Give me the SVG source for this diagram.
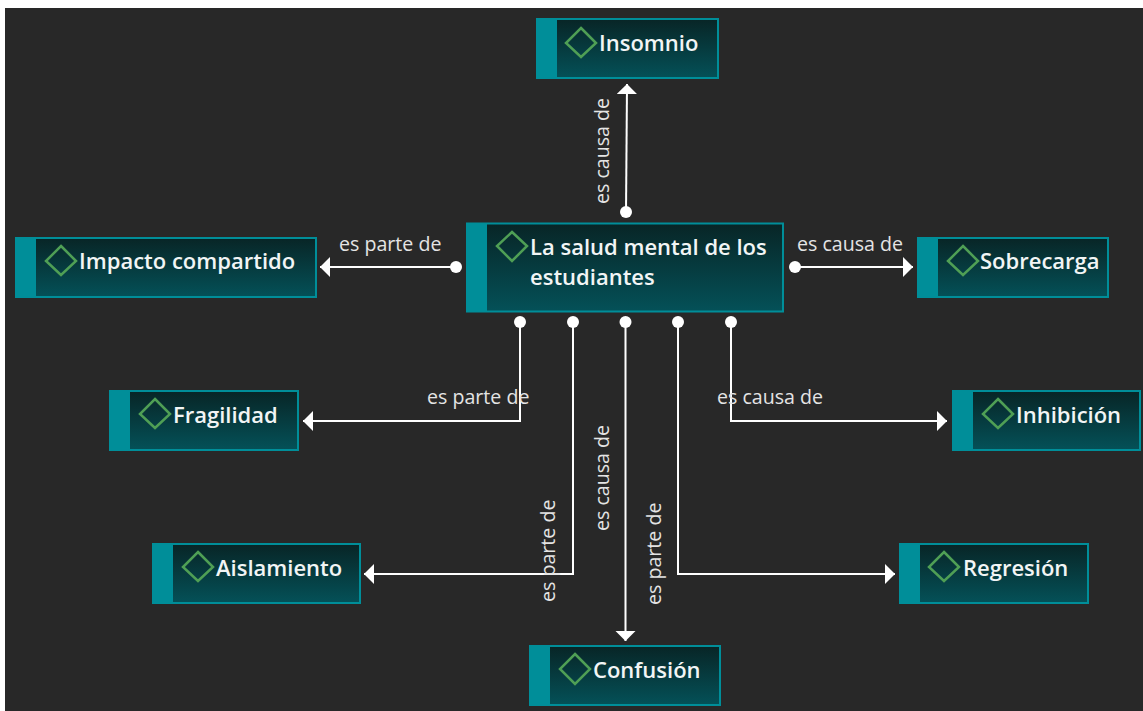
<svg xmlns="http://www.w3.org/2000/svg" width="1143" height="711" viewBox="0 0 1143 711">
<style>
.box{fill:url(#g);stroke:#008e99;stroke-width:2}
.bar{fill:#008e99}
.dia{fill:none;stroke:#4f9f55;stroke-width:2.5}
.t{font-family:"Open Sans","Noto Sans",sans-serif;font-size:22px;font-weight:600;fill:#f2f5f5}
.l{font-family:"Open Sans","Noto Sans",sans-serif;font-size:19.6px;fill:#e4e4e4}
.c{fill:none;stroke:#fff;stroke-width:2}
.d{fill:#fff}
</style>
<defs>
<linearGradient id="g" x1="0" y1="0" x2="0" y2="1"><stop offset="0" stop-color="#082526"/><stop offset="1" stop-color="#045158"/></linearGradient>
<marker id="a" markerUnits="userSpaceOnUse" markerWidth="14" markerHeight="22" refX="11" refY="10" orient="auto"><path d="M1 0L11 10L1 20Z" fill="#fff"/></marker>
</defs>
<rect width="1143" height="711" fill="#fff"/>
<rect x="5" y="8" width="1138" height="703" fill="#282828"/>
<g id="connectors">
<path class="c" d="M626 212L627 84" marker-end="url(#a)"/><circle class="d" cx="626" cy="212" r="6"/>
<path class="c" d="M456 267H320" marker-end="url(#a)"/><circle class="d" cx="456" cy="267" r="6"/>
<path class="c" d="M795 267H913" marker-end="url(#a)"/><circle class="d" cx="795" cy="267" r="6"/>
<path class="c" d="M520 322V421H303" marker-end="url(#a)"/><circle class="d" cx="520" cy="322" r="6"/>
<path class="c" d="M573 322V574H364" marker-end="url(#a)"/><circle class="d" cx="573" cy="322" r="6"/>
<path class="c" d="M625.500 322V641" marker-end="url(#a)"/><circle class="d" cx="625.500" cy="322" r="6"/>
<path class="c" d="M678 322V574H895" marker-end="url(#a)"/><circle class="d" cx="678" cy="322" r="6"/>
<path class="c" d="M731 322V421H947" marker-end="url(#a)"/><circle class="d" cx="731" cy="322" r="6"/>
<text class="l" transform="translate(609 204) rotate(-90)">es causa de</text>
<text class="l" x="339" y="251">es parte de</text>
<text class="l" x="797" y="251">es causa de</text>
<text class="l" x="427" y="404">es parte de</text>
<text class="l" x="717" y="404">es causa de</text>
<text class="l" transform="translate(555 602) rotate(-90)">es parte de</text>
<text class="l" transform="translate(609 531) rotate(-90)">es causa de</text>
<text class="l" transform="translate(661 605) rotate(-90)">es parte de</text>
</g>
<g id="n-insomnio"><rect class="box" x="537" y="19" width="181" height="59"/><rect class="bar" x="536" y="18" width="21" height="61"/><path class="dia" d="M581 28L596 43L581 57L566 43Z"/><text class="t" x="599" y="51">Insomnio</text></g>
<g id="n-main"><rect class="box" x="467" y="223.500" width="316" height="88"/><rect class="bar" x="466" y="223" width="21" height="89"/><path class="dia" d="M512 232L527 246L512 261L497 246Z"/><text class="t" x="530" y="255">La salud mental de los</text><text class="t" x="530" y="285">estudiantes</text></g>
<g id="n-impacto"><rect class="box" x="16" y="238" width="300" height="59"/><rect class="bar" x="15" y="237" width="21" height="61"/><path class="dia" d="M61 246L76 261L61 275L46 261Z"/><text class="t" x="79" y="269">Impacto compartido</text></g>
<g id="n-sobrecarga"><rect class="box" x="918" y="238" width="190" height="59"/><rect class="bar" x="917" y="237" width="21" height="61"/><path class="dia" d="M963 246L978 261L963 275L948 261Z"/><text class="t" x="980" y="269">Sobrecarga</text></g>
<g id="n-fragilidad"><rect class="box" x="110" y="391" width="188" height="59"/><rect class="bar" x="109" y="390" width="21" height="61"/><path class="dia" d="M155 399L170 414L155 428L140 414Z"/><text class="t" x="173" y="423">Fragilidad</text></g>
<g id="n-inhibicion"><rect class="box" x="953" y="391" width="187" height="59"/><rect class="bar" x="952" y="390" width="21" height="61"/><path class="dia" d="M998 399L1013 414L998 428L983 414Z"/><text class="t" x="1016" y="423">Inhibición</text></g>
<g id="n-aislamiento"><rect class="box" x="153" y="544" width="207" height="59"/><rect class="bar" x="152" y="543" width="21" height="61"/><path class="dia" d="M198 552L213 567L198 581L183 567Z"/><text class="t" x="216" y="576">Aislamiento</text></g>
<g id="n-regresion"><rect class="box" x="900" y="544" width="188" height="59"/><rect class="bar" x="899" y="543" width="21" height="61"/><path class="dia" d="M944 552L959 567L944 581L929 567Z"/><text class="t" x="963" y="576">Regresión</text></g>
<g id="n-confusion"><rect class="box" x="530" y="646" width="190" height="59"/><rect class="bar" x="529" y="645" width="21" height="61"/><path class="dia" d="M575 654L590 669L575 684L560 669Z"/><text class="t" x="593" y="678">Confusión</text></g>
</svg>
